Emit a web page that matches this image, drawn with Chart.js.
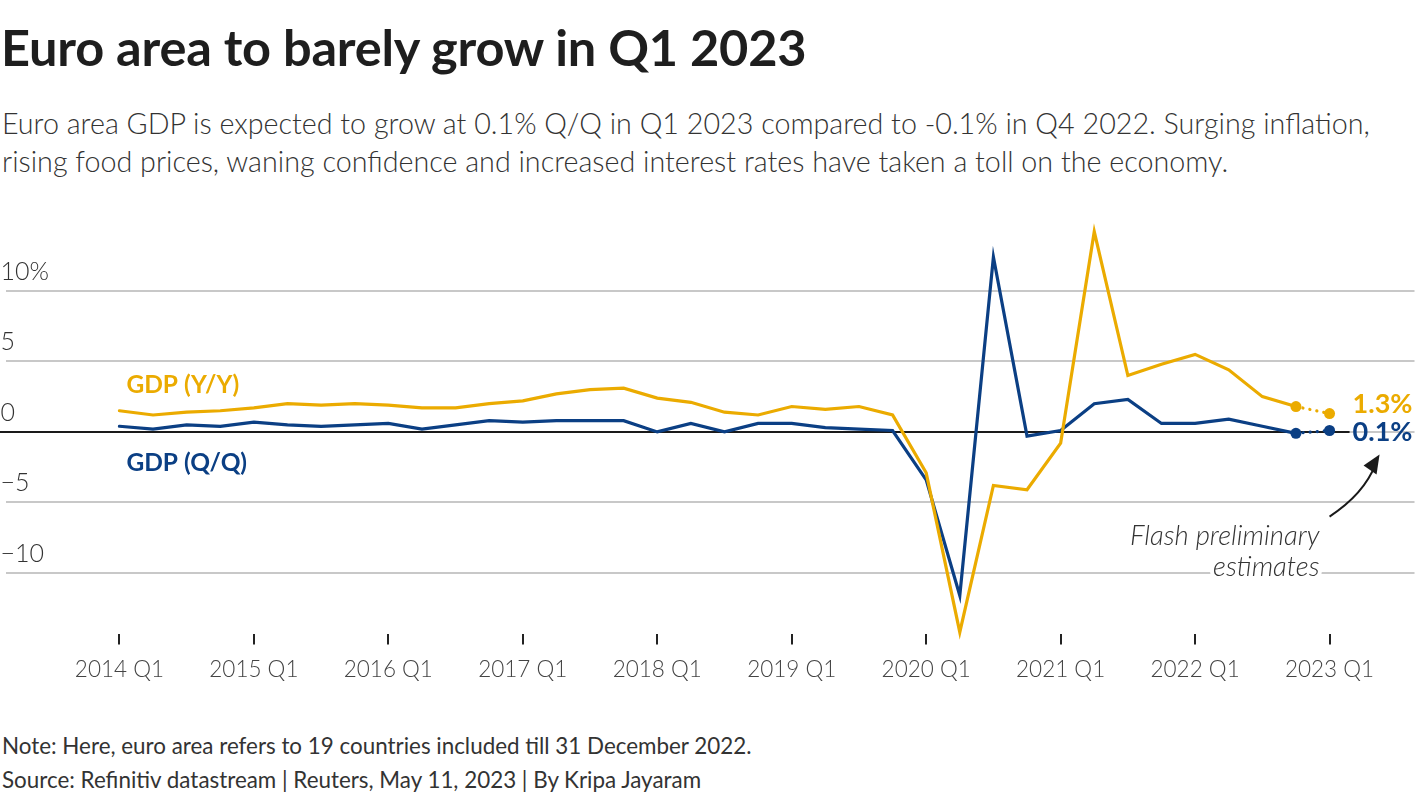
<!DOCTYPE html>
<html lang="en">
<head>
<meta charset="utf-8">
<title>Euro area to barely grow in Q1 2023</title>
<script src="https://cdn.jsdelivr.net/npm/chart.js@4.4.1/dist/chart.umd.min.js"></script>
<style>
  html, body { margin: 0; padding: 0; background: #fff; }
  body { width: 1420px; height: 800px; position: relative; overflow: hidden;
         font-family: "Source Sans Pro", Lato, "Noto Sans", sans-serif; color: #222; }
  .titulo { position: absolute; left: 1px; top: 16px; margin: 0; white-space: nowrap;
            font-size: 50.5px; font-weight: 700; color: #1e1e1e; letter-spacing: -0.2px; }
  .subtitulo { position: absolute; left: 2px; top: 104px; margin: 0; width: 1418px; white-space: nowrap;
               font-size: 28.7px; font-weight: 300; line-height: 38px; color: #333; }
  .lienzo { position: absolute; left: 0; top: 190px; width: 1420px; height: 520px; }
  .pie { position: absolute; left: 2px; top: 729px; margin: 0; white-space: nowrap;
         font-size: 22.4px; line-height: 34px; color: #333; }
</style>
</head>
<body>
<h1 class="titulo">Euro area to barely grow in Q1 2023</h1>
<p class="subtitulo">Euro area GDP is expected to grow at 0.1% Q/Q in Q1 2023 compared to -0.1% in Q4 2022. Surging inflation,<br>rising food prices, waning confidence and increased interest rates have taken a toll on the economy.</p>
<div class="lienzo"><canvas id="grafica-pib"></canvas></div>
<p class="pie">Note: Here, euro area refers to 19 countries included till 31 December 2022.<br>Source: Refinitiv datastream | Reuters, May 11, 2023 | By Kripa Jayaram</p>

<script>
/* ===== DATOS ===== */

// Trimestres desde 2014 Q1 hasta 2023 Q1 (37 puntos)
const TRIMESTRES = [
  "2014 Q1", "2014 Q2", "2014 Q3", "2014 Q4",
  "2015 Q1", "2015 Q2", "2015 Q3", "2015 Q4",
  "2016 Q1", "2016 Q2", "2016 Q3", "2016 Q4",
  "2017 Q1", "2017 Q2", "2017 Q3", "2017 Q4",
  "2018 Q1", "2018 Q2", "2018 Q3", "2018 Q4",
  "2019 Q1", "2019 Q2", "2019 Q3", "2019 Q4",
  "2020 Q1", "2020 Q2", "2020 Q3", "2020 Q4",
  "2021 Q1", "2021 Q2", "2021 Q3", "2021 Q4",
  "2022 Q1", "2022 Q2", "2022 Q3", "2022 Q4",
  "2023 Q1",
];

const PIB_INTERANUAL = [
  1.5, 1.2, 1.4, 1.5, 1.7, 2.0, 1.9, 2.0,
  1.9, 1.7, 1.7, 2.0, 2.2, 2.7, 3.0, 3.1,
  2.4, 2.1, 1.4, 1.2, 1.8, 1.6, 1.8, 1.2,
  -2.9, -14.2, -3.8, -4.1, -0.8, 14.2, 4.0, 4.8,
  5.5, 4.4, 2.5, 1.8, 1.3,
];

const PIB_TRIMESTRAL = [
  0.4, 0.2, 0.5, 0.4, 0.7, 0.5, 0.4, 0.5,
  0.6, 0.2, 0.5, 0.8, 0.7, 0.8, 0.8, 0.8,
  0.0, 0.6, 0.0, 0.6, 0.6, 0.3, 0.2, 0.1,
  -3.4, -11.6, 12.4, -0.3, 0.1, 2.0, 2.3, 0.6,
  0.6, 0.9, 0.4, -0.1, 0.1,
];

const ETIQUETAS_EJE_X = [
  "2014 Q1", "2015 Q1", "2016 Q1", "2017 Q1", "2018 Q1",
  "2019 Q1", "2020 Q1", "2021 Q1", "2022 Q1", "2023 Q1",
];
const MARCAS_EJE_Y    = [-10, -5, 0, 5, 10];
const ETIQUETAS_EJE_Y = ["\u221210", "\u22125", "0", "5", "10%"];

/* ===== ESTILO ===== */

const NARANJA = "#ebab00";
const AZUL    = "#0b3f84";
const FUENTE  = "'Source Sans Pro', Lato, 'Noto Sans', sans-serif";

const ULTIMO = TRIMESTRES.length - 1;

function aPuntos(valores) {
  return valores.map(function(v, i) { return { x: i, y: v }; });
}

// Puntos sólo en las dos últimas observaciones; último tramo punteado
function radioPuntos(contexto) {
  return contexto.dataIndex >= ULTIMO - 1 ? 5.5 : 0;
}

function serie(nombre, valores, color) {
  return {
    label: nombre,
    data: aPuntos(valores),
    borderColor: color,
    backgroundColor: color,
    borderWidth: 3.2,
    pointRadius: radioPuntos,
    pointHoverRadius: radioPuntos,
    pointBorderWidth: 0,
    tension: 0,
    borderCapStyle: "round",
    borderJoinStyle: "miter",
    clip: false,
    segment: {
      borderDash: function(ctx) { return ctx.p1DataIndex === ULTIMO ? [0.1, 7] : undefined; },
    },
  };
}

/* ===== COMPLEMENTO: ETIQUETAS Y ANOTACIÓN ===== */

const complementoEtiquetas = {
  id: "etiquetas",
  beforeDatasetsDraw: function(chart) {
    const ctx = chart.ctx;
    const x = chart.scales.x;
    const y = chart.scales.y;
    // línea del cero en negro
    ctx.save();
    ctx.strokeStyle = "#1a1a1a";
    ctx.lineWidth = 2;
    ctx.beginPath();
    ctx.moveTo(0, Math.round(y.getPixelForValue(0)));
    ctx.lineTo(x.getPixelForValue(ULTIMO) + 20, Math.round(y.getPixelForValue(0)));
    ctx.stroke();
    ctx.restore();
  },
  afterDatasetsDraw: function(chart) {
    const ctx = chart.ctx;
    const x = chart.scales.x;
    const y = chart.scales.y;
    const xFin = x.getPixelForValue(ULTIMO);

    ctx.save();
    ctx.textBaseline = "middle";
    ctx.textAlign = "left";
    ctx.font = "700 24.5px " + FUENTE;

    // nombres de las series
    ctx.fillStyle = NARANJA;
    ctx.fillText("GDP (Y/Y)", x.getPixelForValue(0) + 7, y.getPixelForValue(3.3));
    ctx.fillStyle = AZUL;
    ctx.fillText("GDP (Q/Q)", x.getPixelForValue(0) + 7, y.getPixelForValue(-2.2));

    // valores finales
    ctx.font = "700 27px " + FUENTE;
    ctx.fillStyle = NARANJA;
    ctx.fillText(PIB_INTERANUAL[ULTIMO].toFixed(1) + "%", xFin + 23, y.getPixelForValue(PIB_INTERANUAL[ULTIMO]) - 9);
    ctx.fillStyle = AZUL;
    ctx.fillText(PIB_TRIMESTRAL[ULTIMO].toFixed(1) + "%", xFin + 23, y.getPixelForValue(0));

    // anotación
    ctx.font = "italic 300 27.5px " + FUENTE;
    ctx.textAlign = "right";
    ctx.fillStyle = "#333";
    ctx.strokeStyle = "#fff";
    ctx.lineWidth = 8;
    ctx.lineJoin = "round";
    const xTexto = xFin - 10;
    ctx.strokeText("Flash preliminary", xTexto, y.getPixelForValue(-7.4));
    ctx.fillText("Flash preliminary", xTexto, y.getPixelForValue(-7.4));
    ctx.strokeText("estimates", xTexto, y.getPixelForValue(-9.6));
    ctx.fillText("estimates", xTexto, y.getPixelForValue(-9.6));

    // flecha curva
    const x0 = xFin, y0 = y.getPixelForValue(-6);
    const x1 = xFin + 50, y1 = y.getPixelForValue(-1.6);
    ctx.strokeStyle = "#1a1a1a";
    ctx.lineWidth = 2;
    ctx.beginPath();
    ctx.moveTo(x0, y0);
    ctx.quadraticCurveTo(x0 + 34, y0 - 22, x1 - 4, y1 + 10);
    ctx.stroke();
    ctx.fillStyle = "#1a1a1a";
    ctx.beginPath();
    ctx.moveTo(x1, y1);
    ctx.lineTo(x1 - 16, y1 + 11);
    ctx.lineTo(x1 - 3, y1 + 20);
    ctx.closePath();
    ctx.fill();
    ctx.restore();
  },
};

/* ===== GRÁFICA ===== */

function inicializarGrafica() {
  const lienzo = document.getElementById("grafica-pib");

  new Chart(lienzo, {
    type: "line",
    data: {
      datasets: [
        serie("GDP (Y/Y)", PIB_INTERANUAL, NARANJA),
        serie("GDP (Q/Q)", PIB_TRIMESTRAL, AZUL),
      ],
    },
    options: {
      responsive: true,
      maintainAspectRatio: false,
      animation: false,
      layout: { padding: { top: 36, right: 5, left: 0, bottom: 0 } },
      plugins: {
        legend: { display: false },
        tooltip: { enabled: false },
      },
      scales: {
        x: {
          type: "linear",
          min: -3.389,
          max: 38.527,
          border: { display: false },
          grid: {
            drawOnChartArea: false,
            drawTicks: true,
            tickLength: 11,
            color: "#222",
            lineWidth: 2,
          },
          afterBuildTicks: function(escala) {
            escala.ticks = ETIQUETAS_EJE_X.map(function(e) {
              return { value: TRIMESTRES.indexOf(e) };
            });
          },
          afterFit: function(escala) { escala.height = 76.4; },
          ticks: {
            autoSkip: false,
            maxRotation: 0,
            padding: 12,
            color: "#444",
            font: { family: FUENTE, size: 22.5, weight: 300 },
            callback: function(valor) { return TRIMESTRES[valor]; },
          },
        },
        y: {
          min: -14.3,
          max: 14.6,
          border: { display: false },
          grid: {
            drawTicks: false,
            color: "#c8c8c8",
            lineWidth: 2,
          },
          afterBuildTicks: function(escala) {
            escala.ticks = MARCAS_EJE_Y.map(function(v) { return { value: v }; });
          },
          afterFit: function(escala) { escala.width = 0; },
          ticks: {
            mirror: true,
            padding: -5,
            labelOffset: -19,
            color: "#333",
            font: { family: FUENTE, size: 25, weight: 300 },
            callback: function(valor) { return ETIQUETAS_EJE_Y[MARCAS_EJE_Y.indexOf(valor)]; },
          },
        },
      },
    },
    plugins: [complementoEtiquetas],
  });
}

document.addEventListener("DOMContentLoaded", inicializarGrafica);
</script>
</body>
</html>
